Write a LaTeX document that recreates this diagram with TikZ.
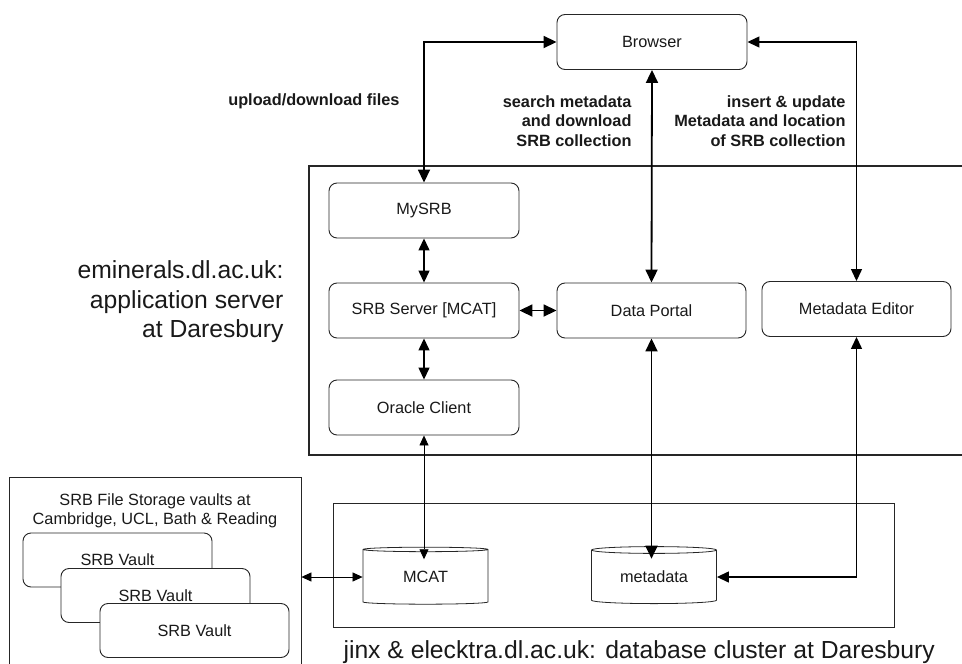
\documentclass[tikz,border=0pt]{standalone}
\usepackage{fontspec}
\setmainfont{Liberation Sans}
\usetikzlibrary{positioning, arrows.meta, shapes.geometric}

\tikzset{
  box/.style={draw=black!85, line width=0.9pt, rounded corners=8pt, fill=white,
    minimum width=190pt, minimum height=55pt, font=\fontsize{16.3pt}{19.5pt}\selectfont},
  db/.style={cylinder, shape border rotate=90, aspect=0.1, draw=black!85, line width=0.8pt,
    minimum width=125pt, minimum height=57pt, inner sep=0pt, font=\fontsize{16.3pt}{19.5pt}\selectfont},
  frame/.style={draw=black!85, inner sep=0pt},
  note/.style={font=\bfseries\fontsize{16.3pt}{19.5pt}\selectfont, align=right, anchor=east},
  big/.style={font=\fontsize{24.7pt}{29.5pt}\selectfont},
  bigarr/.style={line width=1.8pt, arrows={Triangle[length=13pt,width=12pt]-Triangle[length=13pt,width=12pt]}},
  midarr/.style={line width=1.3pt, arrows={Triangle[length=12pt,width=11pt]-Triangle[length=12pt,width=11pt]}},
  thinarr/.style={line width=0.7pt, arrows={Triangle[length=10pt,width=9pt]-Triangle[length=10pt,width=9pt]}}
}

\begin{document}
\begin{tikzpicture}[x=1pt, y=-1pt, text=black!90]
  \useasboundingbox (0,0) rectangle (962,664);

  % 外框
  \node[frame, line width=1.5pt, minimum width=657pt, minimum height=289pt] (appsrv) at (637.5,310.5) {};
  \node[frame, line width=0.8pt, minimum width=561pt, minimum height=124pt] (dbcluster) at (613.5,565) {};
  \node[frame, line width=0.8pt, minimum width=292pt, minimum height=190pt] (vaults) at (155,572) {};

  % 各个组件
  \node[box] (browser) at (652,42) {Browser};
  \node[box] (mysrb) at (424,210.5) {MySRB};
  \node[box] (srbsrv) at (424,310.5) {SRB Server [MCAT]};
  \node[box] (oracle) at (424,407.5) {Oracle Client};
  \node[box, minimum width=189pt] (portal) at (651.5,310.5) {Data Portal};
  \node[box, minimum width=189pt] (editor) at (856.5,309) {Metadata Editor};

  % 数据库
  \node[db] (mcat) at (425.5,577) {MCAT};
  \node[db] (meta) at (654,577) {metadata};
  \coordinate (mcatfront) at ([yshift=-12.5pt]mcat.top);
  \coordinate (metafront) at ([yshift=-12.5pt]meta.top);

  % 存储库
  \node[align=center, font=\fontsize{16.3pt}{19.5pt}\selectfont] (vtitle) at (155,511)
    {SRB File Storage vaults at\\Cambridge, UCL, Bath \& Reading};
  \foreach \i/\x/\y in {1/117.5/560, 2/155.5/595.5, 3/194.5/630.5}
    \node[box, minimum width=189pt, minimum height=54pt] (vault\i) at (\x,\y) {SRB Vault};

  % 说明文字
  \node[note] (upl) at (403,101) {upload/download files};
  \node[note] (srch) at (635,121) {search metadata\\and download\\SRB collection};
  \node[note] (ins) at (849,121) {insert \& update\\Metadata and location\\of SRB collection};
  \node[big, align=right, anchor=east] (applbl) at (287,302) {eminerals.dl.ac.uk:\\application server\\at Daresbury};
  \node[big, anchor=west] (dblbl) at (340,652) {jinx \& elecktra.dl.ac.uk: database cluster at Daresbury};

  % 连接
  \draw[bigarr] (browser.west) -| (mysrb.north);
  \draw[bigarr] (browser.south) -- (portal.north);
  \draw[midarr] (browser.east) -| (editor.north);
  \draw[midarr] (mysrb.south) -- (srbsrv.north);
  \draw[midarr] (srbsrv.south) -- (oracle.north);
  \draw[bigarr] (srbsrv.east) -- (portal.west);
  \draw[thinarr] (oracle.south) -- (oracle.south |- mcatfront);
  \draw[bigarr] (portal.south) -- (portal.south |- metafront);
  \draw[midarr] (editor.south) |- (meta.east);
  \draw[thinarr] (vaults.east |- mcat.west) -- (mcat.west);
\end{tikzpicture}
\end{document}
